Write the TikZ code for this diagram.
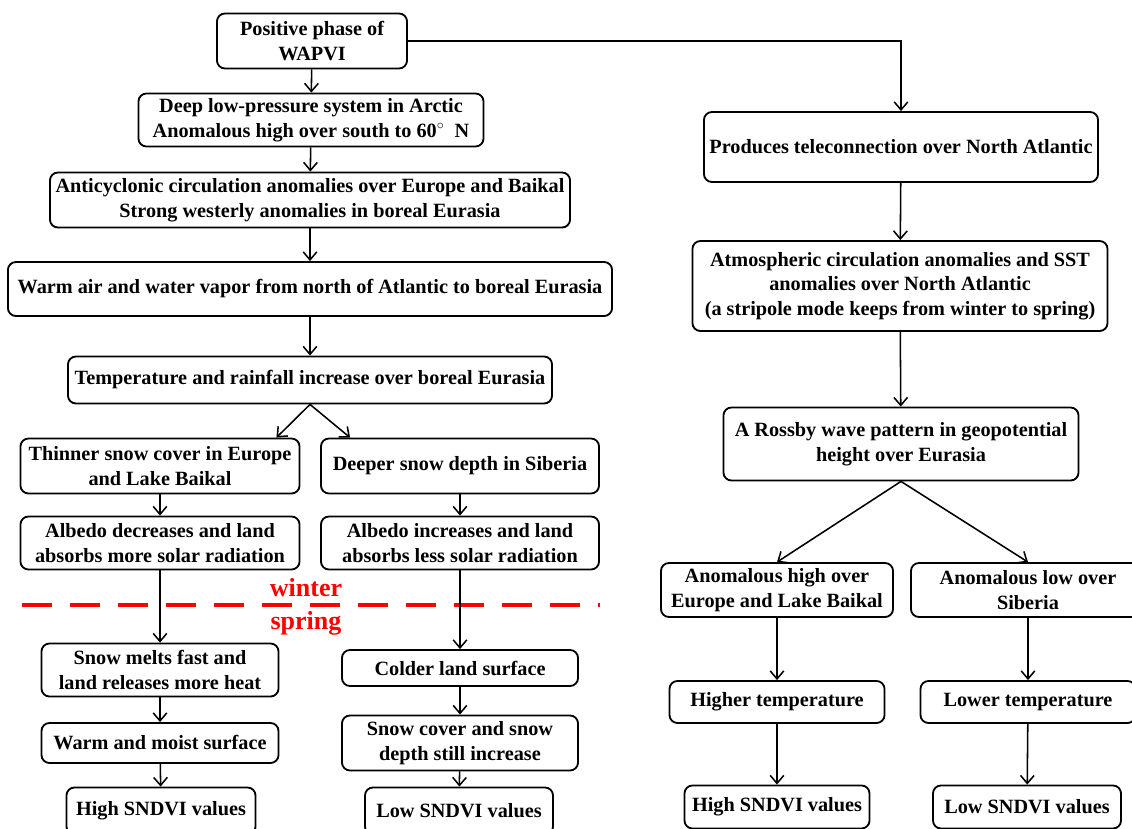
\documentclass[tikz,border=0pt]{standalone}
\usepackage{fontspec}
\setmainfont{Liberation Serif}
\usepackage{tikz}
\usetikzlibrary{arrows.meta}

\begin{document}
\begin{tikzpicture}[x = 0.025cm, y = -0.025cm]
% Node styles ---
\tikzstyle{box} = [rectangle, rounded corners = 0.2cm, line width = 1.3pt, draw = black, fill = white, inner sep = 1pt, align = center, font = \fontsize{14.4}{17.5}\selectfont\bfseries] % Flow boxes
\tikzstyle{lab} = [text = red, font = \fontsize{18.5}{20}\selectfont\bfseries] % Season labels
% Edge styles
\tikzstyle{con} = [-{Straight Barb[length = 2mm, width = 3.4mm]}, line width = 1.1pt] % Effects
% Frame ---
\useasboundingbox (0,0) rectangle (1132,829);
% Nodes (left branch)
\node at (312,41) [box, minimum width = 4.75cm, minimum height = 1.375cm] (pos) {Positive phase of\\WAPVI};
\node at (311,120) [box, minimum width = 8.625cm, minimum height = 1.325cm] (low) {Deep low-pressure system in Arctic\\Anomalous high over south to 60\textsuperscript{$\circ$}\ \ N};
\node at (310,200) [box, minimum width = 13cm, minimum height = 1.375cm] (anti) {Anticyclonic circulation anomalies over Europe and Baikal\\Strong westerly anomalies in boreal Eurasia};
\node at (310,289) [box, minimum width = 15.1cm, minimum height = 1.35cm] (warm) {Warm air and water vapor from north of Atlantic to boreal Eurasia};
\node at (310,380) [box, minimum width = 12.1cm, minimum height = 1.175cm] (temp) {Temperature and rainfall increase over boreal Eurasia};
\node at (160,466) [box, minimum width = 6.975cm, minimum height = 1.375cm] (thin) {Thinner snow cover in Europe\\and Lake Baikal};
\node at (460,466) [box, minimum width = 6.95cm, minimum height = 1.375cm] (deep) {Deeper snow depth in Siberia};
\node at (160,543) [box, minimum width = 6.975cm, minimum height = 1.325cm] (albd) {Albedo decreases and land\\absorbs more solar radiation};
\node at (460,543) [box, minimum width = 6.95cm, minimum height = 1.325cm] (albi) {Albedo increases and land\\absorbs less solar radiation};
\node at (160,670) [box, minimum width = 5.925cm, minimum height = 1.325cm] (melt) {Snow melts fast and\\land releases more heat};
\node at (460,668) [box, minimum width = 5.9cm, minimum height = 0.9cm] (cold) {Colder land surface};
\node at (160,743) [box, minimum width = 5.925cm, minimum height = 1.0cm] (moist) {Warm and moist surface};
\node at (460,743) [box, minimum width = 5.9cm, minimum height = 1.375cm] (still) {Snow cover and snow\\depth still increase};
\node at (161,811) [box, minimum width = 4.725cm, minimum height = 1.175cm] (highl) {High SNDVI values};
\node at (459,811) [box, minimum width = 4.7cm, minimum height = 1.175cm] (lowl) {Low SNDVI values};
% Nodes (right branch)
\node at (901,147) [box, minimum width = 9.85cm, minimum height = 1.75cm] (tele) {Produces teleconnection over North Atlantic};
\node at (900,286) [box, minimum width = 10.375cm, minimum height = 2.25cm] (atmo) {Atmospheric circulation anomalies and SST\\anomalies over North Atlantic\\(a stripole mode keeps from winter to spring)};
\node at (901,444) [box, minimum width = 8.875cm, minimum height = 1.825cm] (ross) {A Rossby wave pattern in geopotential\\height over Eurasia};
\node at (777,590) [box, minimum width = 5.8cm, minimum height = 1.35cm] (ahigh) {Anomalous high over\\Europe and Lake Baikal};
\node at (1028,590) [box, minimum width = 5.85cm, minimum height = 1.35cm] (alow) {Anomalous low over\\Siberia};
\node at (777,702) [box, minimum width = 5.375cm, minimum height = 1.05cm] (htemp) {Higher temperature};
\node at (1028,702) [box, minimum width = 5.375cm, minimum height = 1.05cm] (ltemp) {Lower temperature};
\node at (777,807) [box, minimum width = 4.625cm, minimum height = 1.075cm] (highr) {High SNDVI values};
\node at (1027,807) [box, minimum width = 4.7cm, minimum height = 1.075cm] (lowr) {Low SNDVI values};
% Season divide
\draw [red, line width = 3.5pt, dash pattern = on 0.75cm off 0.45cm] (22,605) -- (600,605);
\node at (306,588) [lab] (win) {winter};
\node at (306,623) [lab] (spr) {spring};
% Paths (left)
\path (pos) edge [con] (low);
\path (low) edge [con] (anti);
\path (anti) edge [con] (warm);
\path (warm) edge [con] (temp);
\path (temp.south) edge [con] ([xshift = -0.6cm]thin.north east);
\path (temp.south) edge [con] ([xshift = 0.75cm]deep.north west);
\path (thin) edge [con] (albd);
\path (deep) edge [con] (albi);
\path (albd) edge [con] (melt);
\path (albi) edge [con] (cold);
\path (melt) edge [con] (moist);
\path (cold) edge [con] (still);
\path (moist) edge [con] (highl);
\path (still) edge [con] (lowl);
% Paths (right)
\draw [con] (pos.east) -| (tele.north);
\path (tele) edge [con] (atmo);
\path (atmo) edge [con] (ross);
\path (ross.south) edge [con] (ahigh.north);
\path (ross.south) edge [con] (alow.north);
\path (ahigh) edge [con] (htemp);
\path (alow) edge [con] (ltemp);
\path (htemp) edge [con] (highr);
\path (ltemp) edge [con] (lowr);
\end{tikzpicture}
\end{document}
